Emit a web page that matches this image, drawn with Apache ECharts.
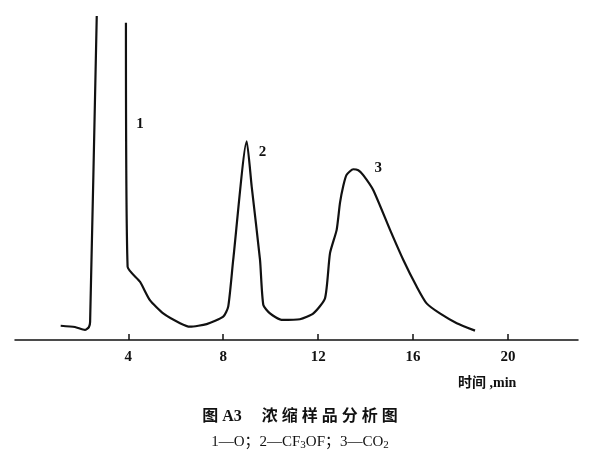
<!DOCTYPE html>
<html>
<head>
<meta charset="utf-8">
<script src="https://cdn.jsdelivr.net/npm/echarts@6/dist/echarts.min.js"></script>
<style>
  html, body { margin: 0; padding: 0; background: #fff; }
  #chart { width: 600px; height: 460px; }
</style>
</head>
<body>
<div id="chart"></div>
<script>
// retention time (min) / detector response (% of full scale)
const frontTime = [1.15, 1.75, 2.17, 2.34, 2.39, 2.67];
const frontResp = [4.4, 4.0, 3.1, 4.0, 5.6, 100];

const traceTime = [3.90, 3.97, 4.49, 4.91, 5.47, 6.18, 6.60, 7.30, 8.00, 8.21, 8.42, 8.99,
  9.20, 9.55, 9.69, 9.97, 10.46, 11.23, 11.80, 12.29, 12.50, 12.78, 12.92, 13.06, 13.20,
  13.48, 13.69, 13.90, 14.32, 15.03, 15.59, 16.15, 16.57, 17.13, 17.84, 18.61];
const traceResp = [97.9, 22.6, 18.0, 12.3, 8.2, 5.2, 4.1, 4.9, 7.2, 10.3, 24.7, 61.3,
  47.3, 24.7, 10.8, 8.2, 6.2, 6.4, 8.2, 12.9, 26.8, 34.0, 42.3, 47.6, 51.0,
  52.7, 52.4, 50.9, 46.3, 34.0, 24.7, 16.5, 11.3, 8.2, 5.2, 2.9];

const peakNames = ['1', '2', '3'];
const peakTime = [4.49, 9.65, 14.53];
const peakResp = [66.7, 58.1, 53.0];

const tickValues = [4, 8, 12, 16, 20];

const serif = '"Liberation Serif", "DejaVu Serif", "Noto Sans CJK SC", serif';

const zip = (a, b) => a.map((v, i) => [v, b[i]]);

const chart = echarts.init(document.getElementById('chart'));
chart.setOption({
  animation: false,
  backgroundColor: '#fff',
  title: {
    left: 'center',
    top: 404,
    itemGap: 9,
    text: '图 A3     浓 缩 样 品 分 析 图',
    textStyle: { fontFamily: serif, fontSize: 16, fontWeight: 'bold', color: '#111' },
    subtext: '{n|1—O；2—CF}{s|3}{n|OF；3—CO}{s|2}',
    subtextStyle: {
      rich: {
        n: { fontFamily: serif, fontSize: 15, color: '#111' },
        s: { fontFamily: serif, fontSize: 11, color: '#111', verticalAlign: 'bottom', padding: [6, 0, 0, 0] }
      }
    }
  },
  grid: { left: 15, right: 22, top: 16, bottom: 120 },
  xAxis: {
    type: 'value',
    min: -0.775,
    max: 22.95,
    axisLine: { lineStyle: { color: '#111', width: 1.5 } },
    axisTick: { show: true, inside: true, length: 6, customValues: tickValues, lineStyle: { color: '#111', width: 1.5 } },
    axisLabel: {
      customValues: tickValues, margin: 10,
      fontFamily: serif, fontSize: 15, fontWeight: 'bold', color: '#111'
    },
    splitLine: { show: false }
  },
  yAxis: {
    type: 'value', min: 0, max: 100, show: false
  },
  graphic: [{
    type: 'text', left: 458, top: 376,
    style: { text: '时间 ,min', fontFamily: serif, fontSize: 14, fontWeight: 'bold', fill: '#111' }
  }],
  series: [{
    type: 'line',
    data: zip(frontTime, frontResp),
    showSymbol: false,
    smooth: 0.2,
    lineStyle: { color: '#111', width: 2.2 }
  }, {
    type: 'line',
    data: zip(traceTime, traceResp),
    showSymbol: false,
    smooth: 0.2,
    lineStyle: { color: '#111', width: 2.2, join: 'round' },
    markPoint: {
      symbol: 'circle', symbolSize: 1,
      itemStyle: { color: 'rgba(0,0,0,0)' },
      label: { show: true, position: 'inside', fontFamily: serif, fontSize: 15, fontWeight: 'bold', color: '#111', formatter: p => p.name },
      data: peakNames.map((n, i) => ({ name: n, coord: [peakTime[i], peakResp[i]] }))
    }
  }]
});
</script>
</body>
</html>
